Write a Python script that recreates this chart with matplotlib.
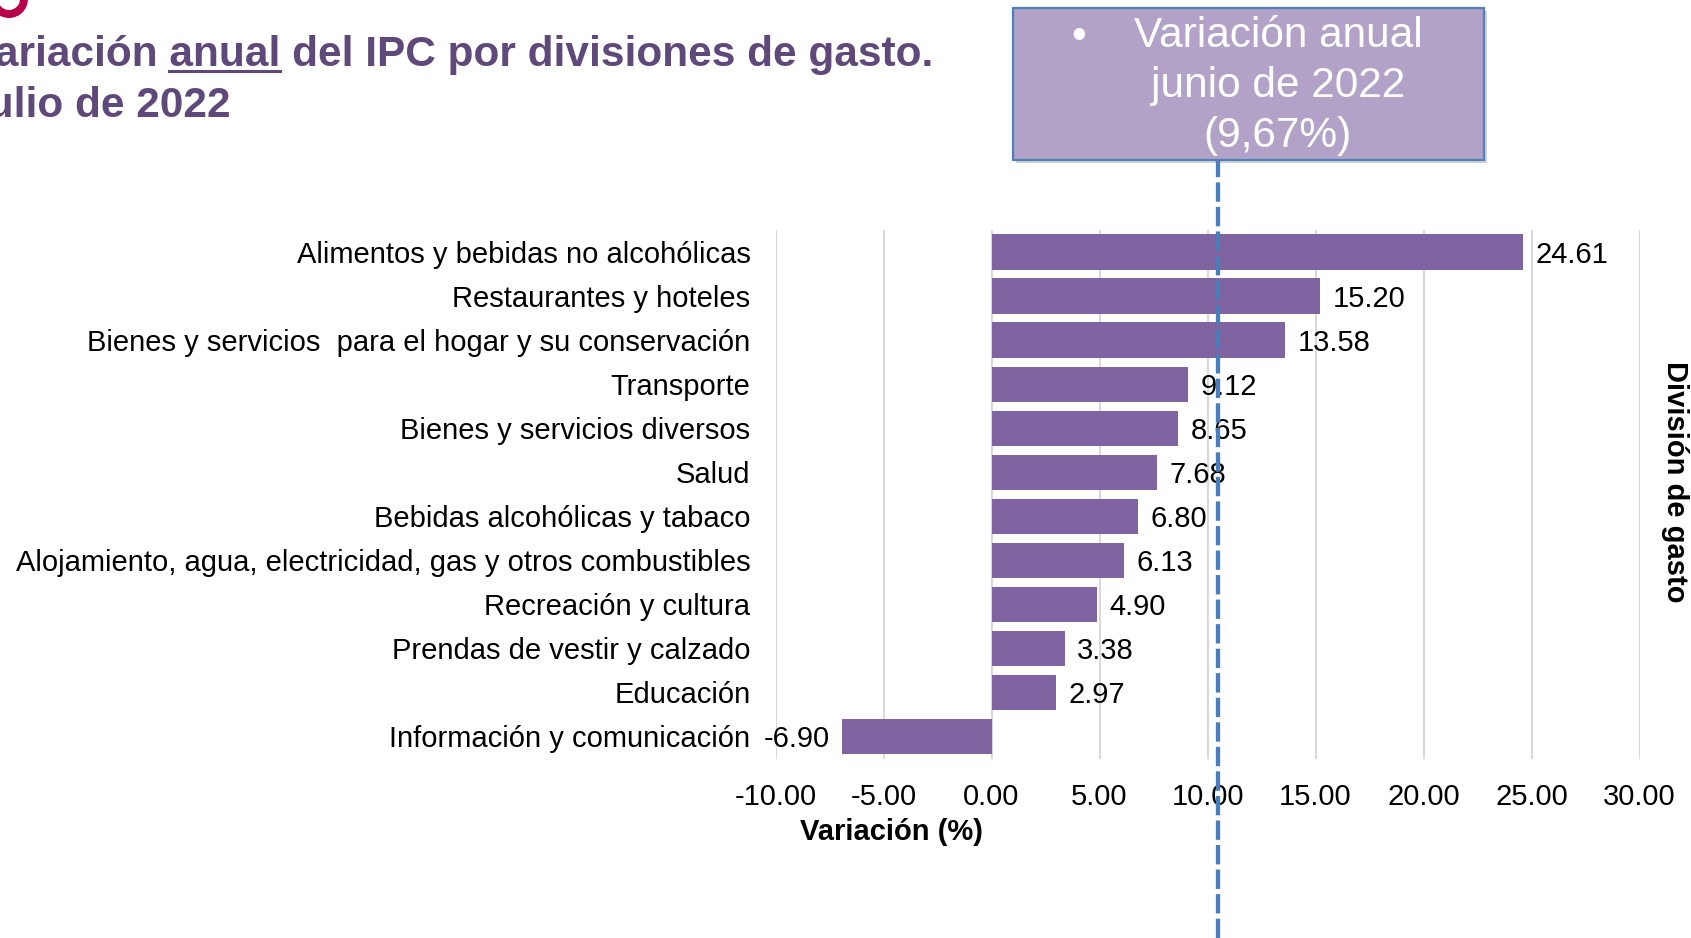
import matplotlib

matplotlib.use("Agg")
import matplotlib.pyplot as plt
import numpy as np
from matplotlib.lines import Line2D
from matplotlib.patches import Rectangle, Wedge
from matplotlib.transforms import IdentityTransform

plt.rcParams["font.family"] = ["Liberation Sans", "DejaVu Sans"]

# canvas size in pixels (dpi 100)
W, H = 1691, 938

# Data
categories = [
    "Alimentos y bebidas no alcohólicas",
    "Restaurantes y hoteles",
    "Bienes y servicios  para el hogar y su conservación",
    "Transporte",
    "Bienes y servicios diversos",
    "Salud",
    "Bebidas alcohólicas y tabaco",
    "Alojamiento, agua, electricidad, gas y otros combustibles",
    "Recreación y cultura",
    "Prendas de vestir y calzado",
    "Educación",
    "Información y comunicación",
]
values = [24.61, 15.20, 13.58, 9.12, 8.65, 7.68, 6.80, 6.13, 4.90, 3.38, 2.97, -6.90]
xticks = [-10, -5, 0, 5, 10, 15, 20, 25, 30]
ref_line_x = 10.5  # dashed marker for June 2022 (drawn near 10.5 in the source)

title_line1 = "Variación anual del IPC por divisiones de gasto."
title_line2 = "Julio de 2022"
underlined = "anual"
box_text = "Variación anual\njunio de 2022\n(9,67%)"

PURPLE_DARK = "#5F497A"
BAR_COLOR = "#8064A2"
GRID_COLOR = "#D9D9D9"
LINE_BLUE = "#4A7EBB"
FS = 21


def fx(px):
    return px / W


def fy(py):
    return 1 - py / H


fig = plt.figure(figsize=(W / 100, H / 100), dpi=100)

# Axes placed to match the original slide
ax_left, ax_right, ax_top, ax_bottom = 775.5, 1639.5, 230, 758.5
ax = fig.add_axes([fx(ax_left), fy(ax_bottom), (ax_right - ax_left) / W, (ax_bottom - ax_top) / H])

y = np.arange(len(categories))
bars = ax.barh(y, values, height=0.8, color=BAR_COLOR, zorder=2)
ax.set_ylim(len(categories) - 0.5, -0.5)
ax.set_xlim(xticks[0], xticks[-1])
ax.set_xticks(xticks)
ax.set_xticklabels([f"{t:.2f}" for t in xticks])
ax.set_yticks(y)
ax.set_yticklabels(categories)
ax.tick_params(length=0, labelsize=FS)
ax.tick_params(axis="x", pad=17.5)
ax.tick_params(axis="y", pad=18)
ax.grid(axis="x", color=GRID_COLOR, linewidth=1.5, zorder=0)
ax.grid(axis="y", visible=False)
ax.set_axisbelow(True)
for spine in ax.spines.values():
    spine.set_visible(False)

value_labels = ax.bar_label(bars, labels=[f"{v:.2f}" for v in values], padding=9, fontsize=FS)
for lbl in value_labels:
    lbl.set_va("center_baseline")

# Axis titles
ax.set_xlabel("Variación (%)", fontsize=FS, fontweight="bold")
ax.xaxis.set_label_coords((891 - ax_left) / (ax_right - ax_left), (ax_bottom - 832) / (ax_bottom - ax_top))
ax.xaxis.label.set_va("center")
ax.text(
    (1675 - ax_left) / (ax_right - ax_left),
    (ax_bottom - 482) / (ax_bottom - ax_top),
    "División de gasto",
    transform=ax.transAxes,
    rotation=-90,
    ha="center",
    va="center",
    fontsize=FS,
    fontweight="bold",
)

# Dashed reference line running from the box down to the bottom edge
ax_h = ax_bottom - ax_top
line = ax.axvline(
    ref_line_x,
    ymin=(ax_bottom - H) / ax_h,
    ymax=(ax_bottom - 161) / ax_h,
    clip_on=False,
    color=LINE_BLUE,
    linewidth=3.1,
    zorder=5,
)
line.set_dashes([4.5, 1.2])

# Annotation box
box_x0, box_x1, box_y0, box_y1 = 1013, 1484, 8, 160
shadow = Rectangle(
    (fx(box_x0 + 3), fy(box_y1 + 3)),
    (box_x1 - box_x0) / W,
    (box_y1 - box_y0) / H,
    transform=fig.transFigure,
    facecolor="#7F7F7F",
    alpha=0.35,
    edgecolor="none",
    zorder=3,
)
fig.add_artist(shadow)
box = Rectangle(
    (fx(box_x0), fy(box_y1)),
    (box_x1 - box_x0) / W,
    (box_y1 - box_y0) / H,
    transform=fig.transFigure,
    facecolor="#B3A2C7",
    edgecolor="#4F81BD",
    linewidth=1.6,
    zorder=4,
)
fig.add_artist(box)
fig.text(fx(1278), fy(86), box_text, ha="center", va="center", multialignment="center",
         color="white", fontsize=30.5, linespacing=1.31, zorder=6)
fig.text(fx(1079), fy(37), "•", ha="center", va="center", color="white", fontsize=30.5, zorder=6)

# Title (cut off at the left edge as in the source slide)
t1 = fig.text(fx(933), fy(66), title_line1, ha="right", va="baseline",
              fontsize=30.5, fontweight="bold", color=PURPLE_DARK)
fig.text(fx(231), fy(117), title_line2, ha="right", va="baseline",
         fontsize=30.5, fontweight="bold", color=PURPLE_DARK)

# underline the word "anual"
renderer = fig.canvas.get_renderer()
bb = t1.get_window_extent(renderer)
prefix = title_line1[: title_line1.index(underlined) + len(underlined)]
tmp = fig.text(0, 0, prefix, fontsize=30.5, fontweight="bold")
w_prefix = tmp.get_window_extent(renderer).width
tmp.set_text(underlined)
w_word = tmp.get_window_extent(renderer).width
tmp.remove()
u_end = bb.x0 + w_prefix
u_start = u_end - w_word
fig.add_artist(Line2D([u_start / W, u_end / W], [fy(71), fy(71)], transform=fig.transFigure,
                      color=PURPLE_DARK, linewidth=2.2))

# red logo fragment in the top-left corner
fig.add_artist(Wedge((9, H + 1), 19, 180, 360, width=8, transform=IdentityTransform(),
                     facecolor="#B8004A", edgecolor="none"))

fig.savefig("out.png", dpi=100)
plt.close(fig)
